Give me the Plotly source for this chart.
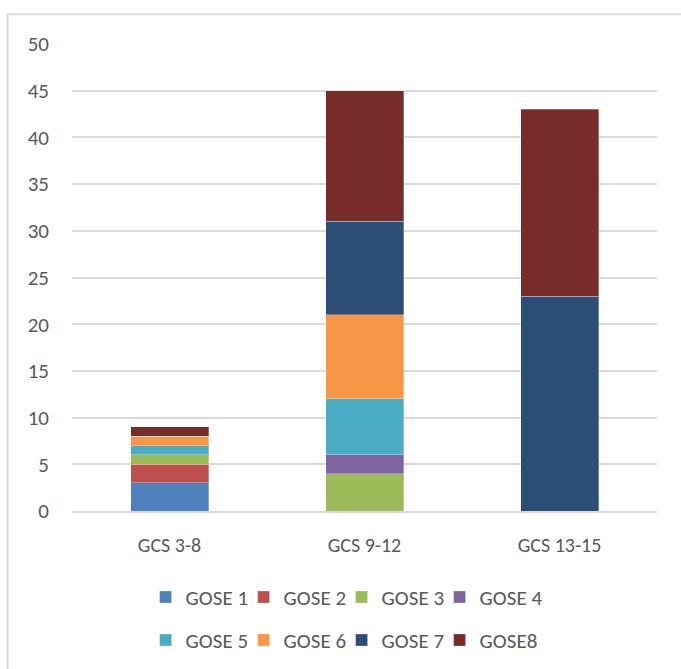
import plotly.graph_objects as go

categories = ["GCS 3-8", "GCS 9-12", "GCS 13-15"]
series_names = ["GOSE 1", "GOSE 2", "GOSE 3", "GOSE 4", "GOSE 5", "GOSE 6", "GOSE 7", "GOSE8"]
gose1 = [3, 0, 0]
gose2 = [2, 0, 0]
gose3 = [1, 4, 0]
gose4 = [0, 2, 0]
gose5 = [1, 6, 0]
gose6 = [1, 9, 0]
gose7 = [0, 10, 23]
gose8 = [1, 14, 20]
series_values = [gose1, gose2, gose3, gose4, gose5, gose6, gose7, gose8]
colors = ["#4F81BD", "#C0504D", "#9BBB59", "#8064A2", "#4BACC6", "#F79646", "#2C4D75", "#772C2A"]
y_ticks = [0, 5, 10, 15, 20, 25, 30, 35, 40, 45, 50]

FONT = "Carlito, Calibri, Lato, sans-serif"
TXT = "#595959"
GRID = "#d9d9d9"
fig = go.Figure()
for i, (name, vals, col) in enumerate(zip(series_names, series_values, colors)):
    fig.add_trace(go.Bar(
        x=categories, y=vals, name=name,
        marker=dict(color=col, line=dict(color="rgba(255,255,255,0.6)", width=0.5)),
        legend="legend" if i < 4 else "legend2",
    ))
# invisible spacer entries so the last legend label of each row is not clipped
for lg in ["legend", "legend2"]:
    fig.add_trace(go.Bar(
        x=categories, y=[0, 0, 0], name=" ", hoverinfo="skip",
        marker=dict(color="rgba(0,0,0,0)", line=dict(width=0)),
        legend=lg, showlegend=True,
    ))

legend_common = dict(orientation="h", x=0.1258, xanchor="left", yanchor="middle",
                     font=dict(size=21, color=TXT), itemwidth=30, tracegroupgap=0,
                     traceorder="normal", itemclick=False, entrywidth=53,
                     bgcolor="rgba(0,0,0,0)")
fig.update_layout(
    barmode="stack",
    bargap=0.6,
    width=681, height=669,
    margin=dict(l=72, r=24, t=44, b=158, autoexpand=False),
    paper_bgcolor="white", plot_bgcolor="white",
    font=dict(family=FONT, size=20, color=TXT),
    xaxis=dict(showline=True, linecolor=GRID, linewidth=1.5, ticks="", showgrid=False,
               ticklabelstandoff=15, tickfont=dict(size=20, color=TXT)),
    yaxis=dict(range=[0, 50], tickvals=y_ticks, showgrid=True, gridcolor=GRID, gridwidth=1.5,
               zeroline=False, showline=False, ticks="", ticklabelstandoff=22,
               tickfont=dict(size=21, color=TXT)),
    legend=dict(y=-0.185, **legend_common),
    legend2=dict(y=-0.277, **legend_common),
    showlegend=True,
    shapes=[
        dict(type="line", xref="paper", yref="paper", x0=-0.1103, x1=1.2, y0=1.0636, y1=1.0636,
             line=dict(color=GRID, width=2)),
        dict(type="line", xref="paper", yref="paper", x0=-0.1103, x1=-0.1103, y0=1.0636, y1=-0.6,
             line=dict(color=GRID, width=2)),
    ],
)

fig.write_html("out.html")
